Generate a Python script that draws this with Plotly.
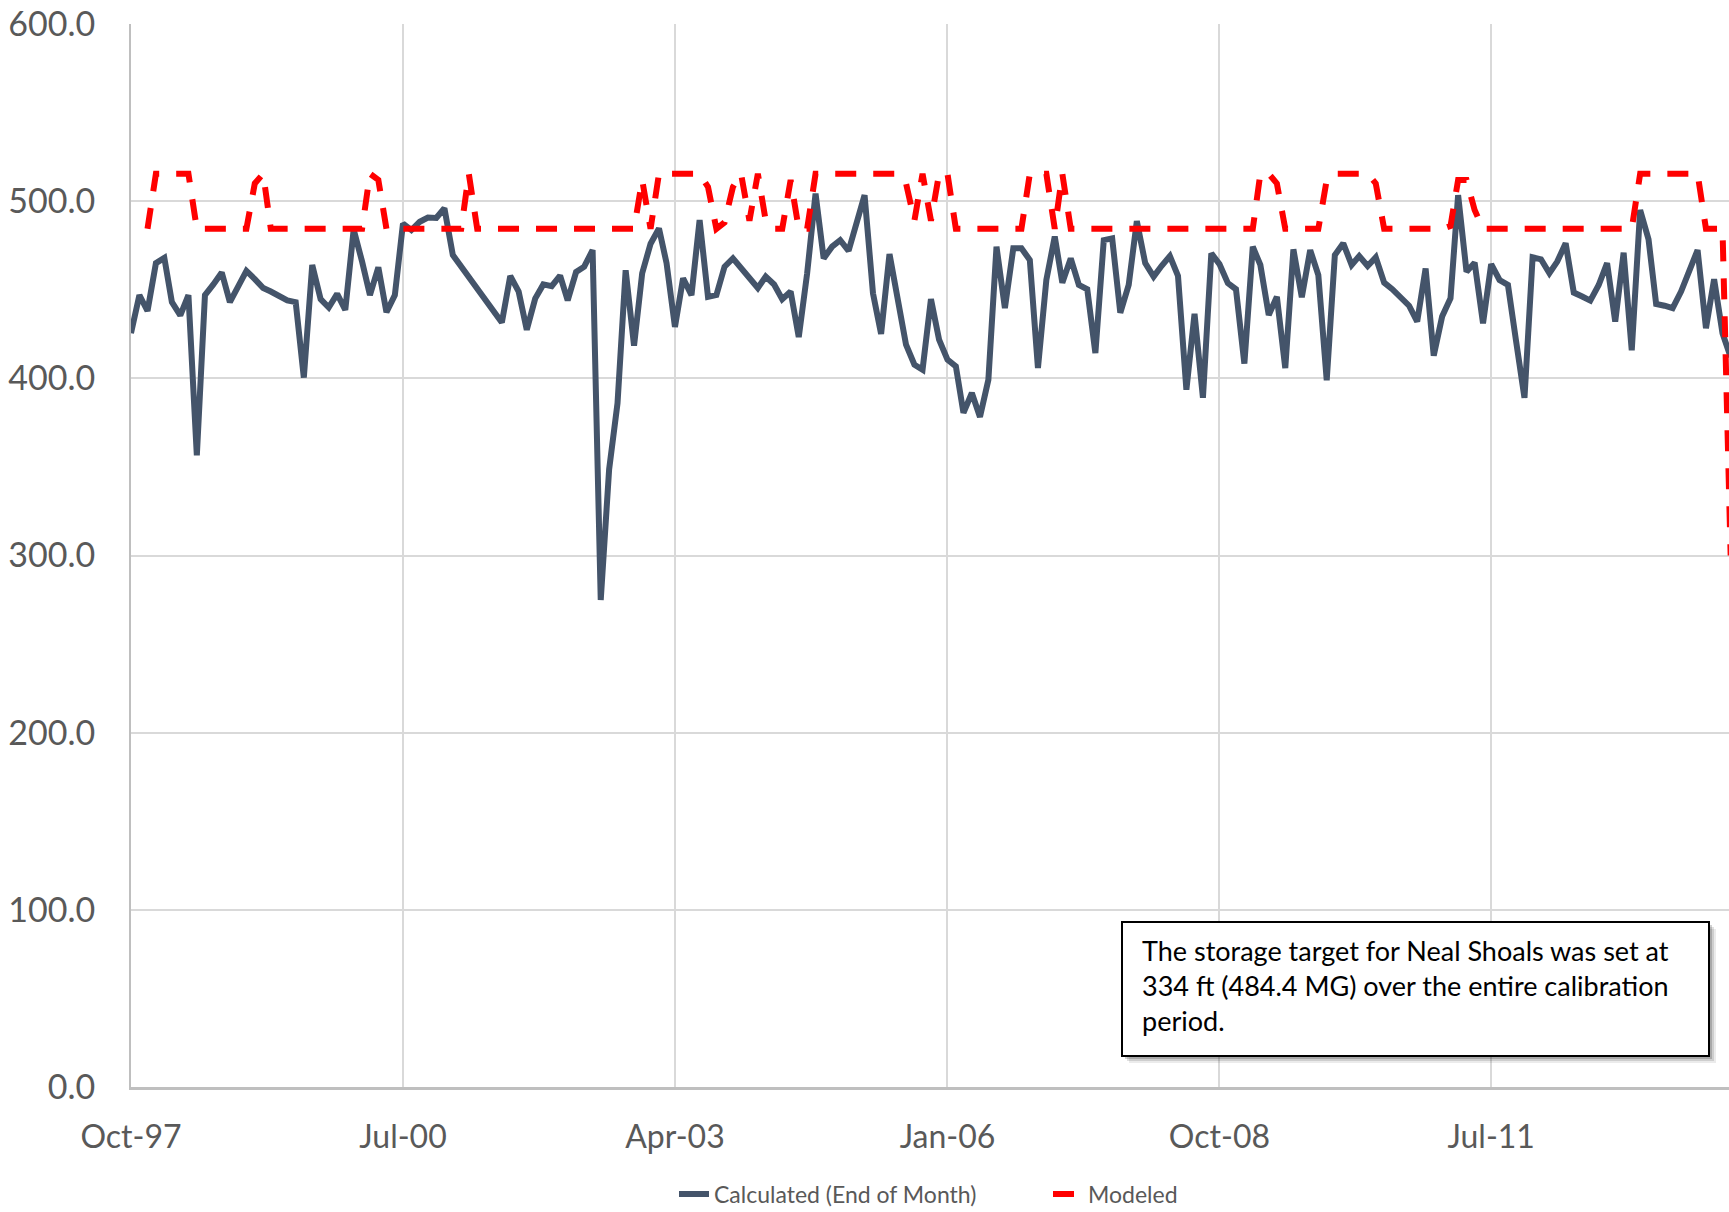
import pandas as pd
import plotly.graph_objects as go

# Neal Shoals storage (MG), monthly from Oct-97
start_month = "1997-10-01"

calculated = [
    425.5, 447.0, 438.0, 465.0, 468.0, 443.0, 435.5, 447.0, 356.5, 447.0,
    453.0, 459.7, 443.0, 452.0, 460.6, 456.0, 451.0, 449.0, 446.5, 444.0,
    443.0, 400.4, 464.0, 444.7, 440.0, 447.7, 438.6, 484.0, 465.9, 447.0,
    462.7, 437.3, 447.0, 487.4, 483.7, 488.4, 490.8, 490.5, 496.0, 469.6,
    None, None, None, None, None, 431.5, 457.8, 449.0, 427.4, 445.0,
    453.0, 452.0, 458.0, 444.0, 460.0, 463.0, 472.4, 274.9, 348.6, 386.0,
    461.0, 418.4, 459.3, 476.0, 484.6, 465.0, 429.0, 456.5, 447.0, 489.3,
    446.0, 447.0, 463.0, 467.7, 462.0, 457.4, 451.0, 457.4, 453.0, 444.7,
    449.0, 423.3, 459.3, 504.3, 467.7, 474.3, 478.0, 472.0, 487.4, 503.4,
    448.0, 425.1, 470.2, 446.0, 419.0, 407.7, 404.9, 444.7, 421.8, 410.5,
    406.8, 380.5, 391.7, 378.2, 399.2, 474.3, 439.6, 473.4, 473.4, 466.8,
    405.8, 455.5, 480.0, 454.0, 467.7, 452.7, 450.3, 414.3, 478.0, 479.0,
    437.0, 452.7, 488.7, 465.0, 457.4, 463.4, 469.0, 457.8, 393.6, 436.4,
    389.0, 470.5, 464.5, 453.7, 450.3, 408.3, 474.3, 464.0, 435.8, 446.0,
    405.8, 472.8, 445.8, 472.4, 458.3, 398.9, 469.6, 476.2, 464.0, 469.0,
    463.4, 468.3, 454.0, 450.3, 445.8, 441.0, 432.0, 462.0, 412.8, 434.9,
    445.2, 503.4, 460.2, 465.3, 431.1, 464.5, 455.5, 452.7, 421.0, 389.0,
    468.3, 467.2, 459.3, 465.9, 476.2, 448.4, 446.2, 443.9, 452.7, 465.0,
    432.0, 470.9, 415.8, 495.0, 478.4, 442.0, 441.0, 439.6, 449.0, 460.2,
    472.4, 428.3, 455.9, 425.5, 412.0,
]

modeled = [
    None, None, 484.4, 515.5, 515.5, 515.5, 515.5, 515.5, 484.4, 484.4,
    484.4, 484.4, 484.4, 484.4, 484.4, 510.0, 515.5, 484.4, 484.4, 484.4,
    484.4, 484.4, 484.4, 484.4, 484.4, 484.4, 484.4, 484.4, 484.4, 515.5,
    512.0, 484.4, 484.4, 484.4, 484.4, 484.4, 484.4, 484.4, 484.4, 484.4,
    484.4, 515.5, 484.4, 484.4, 484.4, 484.4, 484.4, 484.4, 484.4, 484.4,
    484.4, 484.4, 484.4, 484.4, 484.4, 484.4, 484.4, 484.4, 484.4, 484.4,
    484.4, 484.4, 512.0, 484.4, 515.5, 515.5, 515.5, 515.5, 515.5, 515.5,
    508.0, 484.4, 488.0, 508.0, 515.5, 489.0, 515.5, 489.0, 484.4, 484.4,
    512.0, 484.4, 484.4, 515.5, 515.5, 515.5, 515.5, 515.5, 515.5, 515.5,
    515.5, 515.5, 515.5, 515.5, 510.0, 489.0, 515.5, 489.0, 515.5, 515.5,
    484.4, 484.4, 484.4, 484.4, 484.4, 484.4, 484.4, 484.4, 484.4, 515.5,
    515.5, 515.5, 484.4, 515.5, 484.4, 484.4, 484.4, 484.4, 484.4, 484.4,
    484.4, 484.4, 484.4, 484.4, 484.4, 484.4, 484.4, 484.4, 484.4, 484.4,
    484.4, 484.4, 484.4, 484.4, 484.4, 484.4, 484.4, 515.5, 515.5, 510.0,
    484.4, 484.4, 484.4, 484.4, 484.4, 512.0, 515.5, 515.5, 515.5, 515.5,
    515.5, 510.0, 484.4, 484.4, 484.4, 484.4, 484.4, 484.4, 484.4, 484.4,
    486.0, 512.0, 512.0, 495.0, 484.4, 484.4, 484.4, 484.4, 484.4, 484.4,
    484.4, 484.4, 484.4, 484.4, 484.4, 484.4, 484.4, 484.4, 484.4, 484.4,
    484.4, 484.4, 484.4, 515.5, 515.5, 515.5, 515.5, 515.5, 515.5, 515.5,
    515.5, 484.4, 484.4, 484.4, 300.0,
]

note_lines = [
    "The storage target for Neal Shoals was set at",
    "334 ft (484.4 MG) over the entire calibration",
    "period.",
]

months = pd.date_range(start_month, periods=len(calculated), freq="MS")

W, H = 1729, 1212
ML, MR, MT, MB = 131, 0, 24, 125
PW, PH = W - ML - MR, H - MT - MB


def px(x):
    return (x - ML) / PW


def py(y):
    return (H - MB - y) / PH


fig = go.Figure()

fig.add_trace(go.Scatter(
    x=months, y=calculated, mode='lines', name='Calculated (End of Month)',
    line=dict(color='#44546A', width=6), connectgaps=True, legend='legend'
))
fig.add_trace(go.Scatter(
    x=months, y=modeled, mode='lines', name='Modeled',
    line=dict(color='#FF0000', width=6, dash='21px,17px'), legend='legend2'
))

# note box with soft shadow
x0, x1, y0, y1 = 1122, 1709, 922, 1056
for off, op in [(7, 0.08), (5, 0.12), (3, 0.18)]:
    fig.add_shape(type='rect', xref='paper', yref='paper',
                  x0=px(x0 + off), x1=px(x1 + off), y0=py(y1 + off), y1=py(y0 + off),
                  fillcolor='rgba(0,0,0,%s)' % op, line=dict(width=0), layer='above')
fig.add_shape(type='rect', xref='paper', yref='paper',
              x0=px(x0), x1=px(x1), y0=py(y1), y1=py(y0),
              fillcolor='white', line=dict(color='black', width=2), layer='above')
for i, txt in enumerate(note_lines):
    fig.add_annotation(xref='paper', yref='paper', x=px(1140), y=py(950 + i * 35.3),
                       xanchor='left', yanchor='middle', text=txt, showarrow=False,
                       font=dict(family='Lato', size=27, color='black'))

legend_style = dict(orientation='h', yanchor='middle', y=py(1194), xanchor='left',
                    font=dict(size=23, color='#595959'), bgcolor='rgba(0,0,0,0)')

fig.update_layout(
    width=W, height=H,
    margin=dict(l=ML, r=MR, t=MT, b=MB, autoexpand=False),
    plot_bgcolor='white', paper_bgcolor='white',
    font=dict(family='Lato', size=32, color='#595959'),
    showlegend=True,
    legend=dict(x=px(674), **legend_style),
    legend2=dict(x=px(1048), **legend_style),
)

fig.update_xaxes(
    type='date', range=[start_month, '2013-11-25'],
    tick0=start_month, dtick='M33', tickformat='%b-%y',
    showgrid=True, gridcolor='#D9D9D9', gridwidth=2,
    showline=True, linecolor='#BFBFBF', linewidth=3,
    ticks='', ticklabelstandoff=20, zeroline=False, automargin=False
)
fig.update_yaxes(
    range=[0, 600], dtick=100, tickformat='.1f', tickfont=dict(size=34),
    showgrid=True, gridcolor='#D9D9D9', gridwidth=2,
    showline=True, linecolor='#BFBFBF', linewidth=2,
    ticks='', ticklabelstandoff=27, zeroline=False, automargin=False
)

# drop the default page margin so the figure sits at the window corner
fig.write_html("out.html", config={'displayModeBar': False},
               post_script="document.body.style.margin='0';")
